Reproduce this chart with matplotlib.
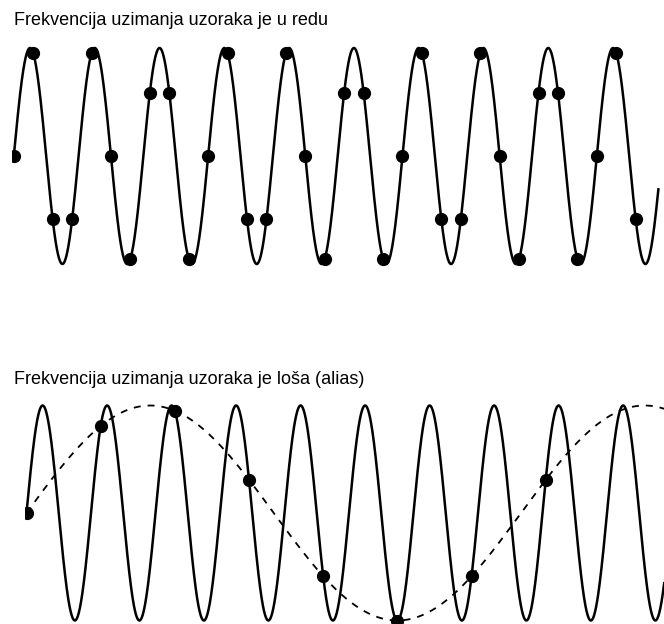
import numpy as np
import matplotlib
matplotlib.use("Agg")
import matplotlib.pyplot as plt

plt.rcParams['lines.scale_dashes'] = False

# ---- data ----
title_top = "Frekvencija uzimanja uzoraka je u redu"
title_bottom = "Frekvencija uzimanja uzoraka je loša (alias)"

signal_freq = 1.0            # cycles per unit time
good_sample_step = 0.3       # signal cycles between samples (top)
good_sample_count = 33
bad_sample_step = 1.15       # signal cycles between samples (bottom)
bad_sample_count = 8
top_duration = 9.95
bottom_duration = 9.9

W, H = 664, 624
fig = plt.figure(figsize=(W / 100, H / 100), dpi=100)
fig.patch.set_facecolor("white")


def make_axes(px_left, px_right, px_top, px_bot, x0_px, px_per_cycle, mid_px, amp_px):
    ax = fig.add_axes([px_left / W, 1 - px_bot / H, (px_right - px_left) / W, (px_bot - px_top) / H])
    ax.set_xlim((px_left - x0_px) / px_per_cycle, (px_right - x0_px) / px_per_cycle)
    ax.set_ylim((mid_px - px_bot) / amp_px, (mid_px - px_top) / amp_px)
    ax.axis("off")
    return ax


# ---- top panel ----
ax1 = make_axes(12, 664, 35, 290, 13.8, 64.78, 156, 108)
t = np.linspace(0, top_duration, 3000)
ax1.plot(t, np.sin(2 * np.pi * signal_freq * t), color="black", lw=1.8, solid_joinstyle="miter")
ts = np.arange(good_sample_count) * good_sample_step
ax1.plot(ts, np.sin(2 * np.pi * signal_freq * ts), "o", color="black", ms=8.5)

# ---- bottom panel ----
ax2 = make_axes(24.5, 664, 395, 624, 26.5, 64.5, 513, 107.5)
t = np.linspace(0, bottom_duration, 3000)
ax2.plot(t, np.sin(2 * np.pi * signal_freq * t), color="black", lw=1.8)
alias_freq = signal_freq - 1.0 / bad_sample_step
ax2.plot(t, np.sin(2 * np.pi * alias_freq * t), color="black", lw=1.3, dashes=(5, 5))
tb = np.arange(bad_sample_count) * bad_sample_step
ax2.plot(tb, np.sin(2 * np.pi * signal_freq * tb), "o", color="black", ms=8.5)

fig.text(14 / W, 1 - 25 / H, title_top, fontsize=13, family="Liberation Sans",
         ha="left", va="baseline", color="black")
fig.text(14 / W, 1 - 384 / H, title_bottom, fontsize=13, family="Liberation Sans",
         ha="left", va="baseline", color="black")

fig.savefig("out.png", dpi=100, facecolor="white")
